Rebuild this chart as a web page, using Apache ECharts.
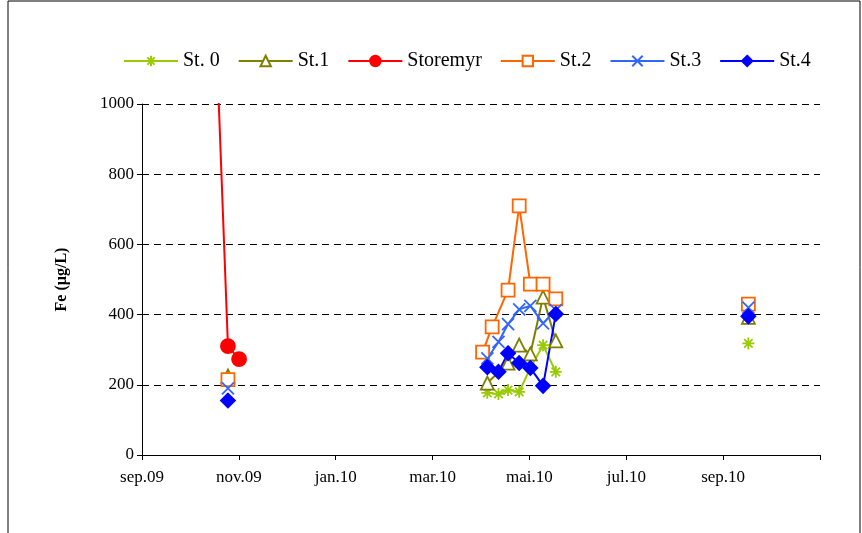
<!DOCTYPE html>
<html>
<head>
<meta charset="UTF-8">
<script src="https://cdn.jsdelivr.net/npm/echarts@6/dist/echarts.min.js"></script>
<style>
  body { margin: 0; background: #fff; }
  #chart { width: 862px; height: 533px; }
</style>
</head>
<body>
<div id="chart"></div>
<script>
// x values are days after 1 Sep 2009
var tickLabels = ['sep.09', 'nov.09', 'jan.10', 'mar.10', 'mai.10', 'jul.10', 'sep.10', ''];
var daysSt0 = [213, 217, 224, 230, 237, 244, 252, 260, 381];
var st0 = [null, 177, 174, 185, 180, 248, 313, 237, 318];
var daysSt1 = [54, 217, 230, 237, 244, 252, 260, 381];
var st1 = [225, 205, 262, 313, 288, 450, 325, 392];
var daysStoremyr = [48, 54, 61];
var storemyr = [1030, 310, 273];
var daysSt2 = [54, 214, 220, 230, 237, 244, 252, 260, 381];
var st2 = [215, 293, 365, 470, 710, 487, 487, 445, 430];
var daysSt3 = [54, 217, 224, 230, 237, 244, 252, 260, 381];
var st3 = [190, 275, 322, 373, 415, 425, 375, 413, 420];
var daysSt4 = [54, 217, 224, 230, 237, 244, 252, 260, 381];
var st4 = [155, 250, 237, 290, 262, 248, 197, 402, 395];

var star = 'path://M5,0V10M0,5H10M1.5,1.5L8.5,8.5M8.5,1.5L1.5,8.5';
var cross = 'path://M0,0L10,10M10,0L0,10';

function pts(days, vals, breakAfter) {
  var out = [];
  for (var i = 0; i < days.length; i++) {
    out.push([days[i], vals[i]]);
    if (breakAfter.indexOf(i) >= 0) out.push([days[i] + 1, null]);
  }
  return out;
}

function ser(name, color, symbol, size, data, empty) {
  return {
    name: name, type: 'line', data: data, connectNulls: false,
    symbol: symbol, symbolSize: size,
    lineStyle: { color: color, width: 2 },
    itemStyle: empty ? { color: '#fff', borderColor: color, borderWidth: 1.8 } : { color: color, borderColor: color, borderWidth: 1.8 },
    clip: true
  };
}

var chart = echarts.init(document.getElementById('chart'));
chart.setOption({
  animation: false,
  graphic: [{ type: 'rect', shape: { x: 8, y: 1, width: 852, height: 540 }, style: { fill: 'none', stroke: '#000', lineWidth: 1 } }],
  legend: {
    top: 46, left: 118, itemGap: 18, itemWidth: 54, itemHeight: 13,
    textStyle: { fontFamily: 'Liberation Serif', fontSize: 20, color: '#000' }
  },
  grid: { left: 142, right: 42, top: 104, bottom: 78 },
  xAxis: {
    type: 'value', min: 0, max: 426, interval: 426 / 7,
    axisLine: { lineStyle: { color: '#000' } },
    axisTick: { lineStyle: { color: '#000' }, length: 5 },
    splitLine: { show: false },
    axisLabel: {
      color: '#000', fontFamily: 'Liberation Serif', fontSize: 17, margin: 14,
      formatter: function (v) { return tickLabels[Math.round(v / (426 / 7))]; }
    }
  },
  yAxis: {
    type: 'value', min: 0, max: 1000, interval: 200,
    name: 'Fe (µg/L)', nameLocation: 'middle', nameGap: 72,
    nameTextStyle: { fontFamily: 'Liberation Serif', fontSize: 16, fontWeight: 'bold', color: '#000' },
    axisLine: { show: true, lineStyle: { color: '#000' } },
    axisTick: { show: true, lineStyle: { color: '#000' } },
    splitLine: { lineStyle: { color: '#000', type: [7, 5] } },
    axisLabel: { color: '#000', fontFamily: 'Liberation Serif', fontSize: 17, formatter: function (v) { return String(v); } }
  },
  series: [
    ser('St. 0', '#99cc00', star, 12, pts(daysSt0, st0, [7]), false),
    ser('St.1', '#808000', 'triangle', 13, pts(daysSt1, st1, [0, 6]), true),
    ser('Storemyr', '#ff0000', 'circle', 14, pts(daysStoremyr, storemyr, []), false),
    ser('St.2', '#ff6600', 'rect', 13, pts(daysSt2, st2, [0, 7]), true),
    ser('St.3', '#3366ff', cross, 12, pts(daysSt3, st3, [0, 7]), false),
    ser('St.4', '#0000ff', 'diamond', 14, pts(daysSt4, st4, [0, 7]), false)
  ]
});
</script>
</body>
</html>
